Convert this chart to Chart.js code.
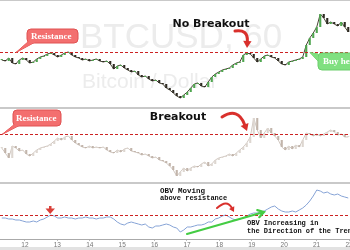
<!DOCTYPE html>
<html>
<head>
<meta charset="utf-8">
<script src="https://cdn.jsdelivr.net/npm/chart.js@4"></script>
<style>
html, body { margin: 0; padding: 0; background: #fff; }
#wrap { position: relative; width: 350px; height: 250px; overflow: hidden; }
canvas { position: absolute; left: 0; }
.sep { position: absolute; left: 0; width: 350px; background: #c9c9c9; }
</style>
</head>
<body>
<div id="wrap">
	<canvas id="priceChart" width="350" height="108" style="top:0"></canvas>
	<canvas id="retestChart" width="350" height="74" style="top:109px"></canvas>
	<canvas id="obvChart" width="350" height="63" style="top:184px"></canvas>
	<div class="sep" style="top:0;height:1px"></div>
	<div class="sep" style="top:107px;height:2px"></div>
	<div class="sep" style="top:182px;height:2px"></div>
	<div class="sep" style="top:247px;height:3px;background:#e2e2e2"></div>
</div>
<script>
// closing prices, top panel (failed breakout, then breakout)
const priceCloses = [
	6520, 6510, 6540, 6490, 6480, 6520, 6540, 6520, 6490, 6500,
	6530, 6550, 6560, 6580, 6590, 6570, 6550, 6570, 6590, 6600,
	6570, 6550, 6540, 6520, 6530, 6510, 6520, 6530, 6510, 6500,
	6510, 6480, 6430, 6460, 6470, 6440, 6420, 6400, 6410, 6370,
	6350, 6360, 6330, 6310, 6320, 6290, 6280, 6240, 6220, 6190,
	6160, 6140, 6170, 6200, 6240, 6280, 6290, 6260, 6250, 6300,
	6350, 6380, 6400, 6420, 6430, 6440, 6470, 6490, 6500, 6570,
	6590, 6580, 6540, 6500, 6530, 6560, 6570, 6550, 6540, 6510,
	6480, 6470, 6500, 6510, 6520, 6530, 6550, 6670, 6740, 6790,
	6850, 6980, 6940, 6880, 6900, 6880, 6860, 6900, 6850, 6800,
];
// closing prices, middle panel (breakout above resistance)
const retestCloses = [
	6460, 6410, 6360, 6480, 6460, 6430, 6440, 6400, 6380, 6410,
	6440, 6460, 6470, 6480, 6500, 6530, 6560, 6540, 6570, 6580,
	6540, 6510, 6490, 6470, 6460, 6480, 6460, 6470, 6460, 6470,
	6440, 6420, 6410, 6440, 6420, 6450, 6460, 6430, 6420, 6410,
	6390, 6400, 6380, 6360, 6370, 6340, 6330, 6310, 6280, 6240,
	6180, 6220, 6260, 6230, 6260, 6280, 6270, 6300, 6320, 6280,
	6300, 6340, 6360, 6370, 6380, 6400, 6380, 6410, 6440, 6470,
	6510, 6570, 6760, 6640, 6560, 6610, 6660, 6610, 6580, 6540,
	6470, 6440, 6480, 6450, 6490, 6470, 6540, 6610, 6600, 6580,
	6600, 6580, 6600, 6620, 6640, 6620, 6590, 6600, 6570, 6570,
];
// on-balance volume
const obvValues = [
	8200, 8200, 8100, 8100, 8000, 8000, 7900, 7800, 7800, 7900,
	7800, 8000, 8100, 8300, 8500, 8400, 8200, 8200, 8300, 8200,
	8200, 8100, 8200, 8200, 8300, 8200, 8200, 8100, 8200, 8200,
	8300, 8300, 8100, 7800, 7600, 7500, 7700, 7800, 7700, 7600,
	7500, 7600, 7300, 7200, 7400, 7400, 7500, 7600, 7500, 7300,
	7200, 6800, 7000, 7300, 7300, 7400, 7500, 7500, 7600, 7800,
	7800, 8100, 8200, 8400, 8500, 8300, 8100, 8000, 8100, 8200,
	8400, 8600, 8700, 8700, 8800, 8900, 9100, 9300, 9400, 9100,
	8900, 8800, 8800, 8900, 8800, 9000, 9200, 9500, 9900, 10400,
	11000, 10900, 10700, 10800, 10600, 10500, 10600, 10400, 10300, 10200,
];
const dayTicks = [12, 13, 14, 15, 16, 17, 18, 19, 20, 21, 22];
const dayLabels = ["12", "13", "14", "15", "16", "17", "18", "19", "20", "21", "22"];

const RESISTANCE = 6600;
const OBV_RESISTANCE = 8500;

const RED = "#d9302c";
const DASH_RED = "#cc2222";

function candles(closes) {
	return closes.map((c, i) => [i ? closes[i - 1] : c, c]);
}

function overlay(under, over) {
	return {
		id: "overlay",
		beforeDatasetsDraw(chart) {
			if (under) under(chart.ctx, chart);
		},
		afterDatasetsDraw(chart) {
			if (over) over(chart.ctx, chart);
		},
	};
}

function hline(ctx, chart, value) {
	const y = Math.round(chart.scales.y.getPixelForValue(value)) + 0.5;
	ctx.save();
	ctx.strokeStyle = DASH_RED;
	ctx.lineWidth = 1.2;
	ctx.setLineDash([3, 2]);
	ctx.beginPath();
	ctx.moveTo(chart.chartArea.left, y);
	ctx.lineTo(chart.chartArea.right, y);
	ctx.stroke();
	ctx.restore();
	return y;
}

function rrect(ctx, x, y, w, h, r) {
	ctx.beginPath();
	ctx.moveTo(x + r, y);
	ctx.lineTo(x + w - r, y);
	ctx.quadraticCurveTo(x + w, y, x + w, y + r);
	ctx.lineTo(x + w, y + h - r);
	ctx.quadraticCurveTo(x + w, y + h, x + w - r, y + h);
	ctx.lineTo(x + r, y + h);
	ctx.quadraticCurveTo(x, y + h, x, y + h - r);
	ctx.lineTo(x, y + r);
	ctx.quadraticCurveTo(x, y, x + r, y);
	ctx.closePath();
}

function callout(ctx, b) {
	const tail = () => {
		ctx.beginPath();
		ctx.moveTo(b.tail[0][0], b.tail[0][1]);
		ctx.lineTo(b.tail[1][0], b.tail[1][1]);
		ctx.lineTo(b.tail[2][0], b.tail[2][1]);
		ctx.closePath();
	};
	ctx.save();
	ctx.fillStyle = b.fill;
	ctx.strokeStyle = b.stroke;
	ctx.lineWidth = 1;
	tail();
	ctx.fill();
	ctx.stroke();
	rrect(ctx, b.x, b.y, b.w, b.h, 4);
	ctx.fill();
	ctx.stroke();
	tail();
	ctx.fill();
	ctx.fillStyle = "#fff";
	ctx.font = "bold 9px 'Liberation Serif'";
	ctx.textBaseline = "middle";
	ctx.textAlign = "left";
	ctx.fillText(b.text, b.tx, b.y + b.h / 2 + 0.5);
	ctx.restore();
}

function curvedArrow(ctx, p0, c, p1, width, head) {
	const ang = Math.atan2(p1[1] - c[1], p1[0] - c[0]);
	const bx = p1[0] - Math.cos(ang) * head;
	const by = p1[1] - Math.sin(ang) * head;
	const nx = Math.cos(ang + Math.PI / 2) * head * 0.6;
	const ny = Math.sin(ang + Math.PI / 2) * head * 0.6;
	ctx.save();
	ctx.strokeStyle = RED;
	ctx.fillStyle = RED;
	ctx.lineWidth = width;
	ctx.lineCap = "round";
	ctx.beginPath();
	ctx.moveTo(p0[0], p0[1]);
	ctx.quadraticCurveTo(c[0], c[1], bx, by);
	ctx.stroke();
	ctx.beginPath();
	ctx.moveTo(p1[0], p1[1]);
	ctx.lineTo(bx + nx, by + ny);
	ctx.lineTo(bx - nx, by - ny);
	ctx.closePath();
	ctx.fill();
	ctx.restore();
}

function text(ctx, str, x, y, font, align) {
	ctx.save();
	ctx.fillStyle = "#111";
	ctx.font = font;
	ctx.textAlign = align || "left";
	ctx.textBaseline = "middle";
	ctx.fillText(str, x, y);
	ctx.restore();
}

function baseOptions(yMin, yMax) {
	return {
		responsive: false,
		animation: false,
		devicePixelRatio: 1,
		events: [],
		layout: { padding: 0 },
		plugins: { legend: { display: false }, tooltip: { enabled: false } },
		scales: {
			x: { display: false, offset: true },
			y: { display: false, min: yMin, max: yMax },
		},
	};
}

function candleDatasets(closes, up, down, trace) {
	return [
		{
			type: "bar",
			data: candles(closes),
			backgroundColor: (ctx) => {
				const r = ctx.raw;
				return r && r[1] >= r[0] ? up : down;
			},
			borderWidth: 0,
			barPercentage: 0.6,
			categoryPercentage: 1,
			minBarLength: 1,
			order: 1,
		},
		{
			type: "line",
			data: closes,
			borderColor: trace,
			borderWidth: 1,
			pointRadius: 0,
			tension: 0,
			order: 2,
		},
	];
}

// top panel
new Chart(document.getElementById("priceChart"), {
	type: "bar",
	data: {
		labels: priceCloses.map((_, i) => i),
		datasets: candleDatasets(priceCloses, "#4fa64f", "#2e2a22", "#4a4636"),
	},
	options: baseOptions(6040, 7120),
	plugins: [
		overlay(
			(ctx) => {
				ctx.save();
				ctx.fillStyle = "#ececec";
				ctx.textBaseline = "alphabetic";
				ctx.font = "35px 'Liberation Sans'";
				ctx.fillText("BTCUSD, 60", 80, 48);
				ctx.font = "21px 'Liberation Sans'";
				ctx.fillText("Bitcoin / Dollar", 82, 88);
				ctx.restore();
			},
			(ctx, chart) => {
				const ry = hline(ctx, chart, RESISTANCE);
				callout(ctx, {
					x: 27, y: 29, w: 51, h: 14, tx: 31, text: "Resistance",
					fill: "#f36f6f", stroke: "#e05252",
					tail: [[29, 41], [37, 41], [16, ry]],
				});
				callout(ctx, {
					x: 318, y: 53, w: 42, h: 17, tx: 323, text: "Buy here",
					fill: "#80e080", stroke: "#6cce6c",
					tail: [[318, 54], [318, 61], [310, ry]],
				});
				text(ctx, "No Breakout", 211, 24, "bold 11px 'DejaVu Sans'", "center");
				curvedArrow(ctx, [235, 31], [248, 29], [247, 48], 3, 7);
			},
		),
	],
});

// middle panel
new Chart(document.getElementById("retestChart"), {
	type: "bar",
	data: {
		labels: retestCloses.map((_, i) => i),
		datasets: candleDatasets(retestCloses, "#ddd6d0", "#c2b5ab", "#d2c9c2"),
	},
	options: baseOptions(6110, 6850),
	plugins: [
		overlay(null, (ctx, chart) => {
			const ry = hline(ctx, chart, RESISTANCE);
			callout(ctx, {
				x: 13, y: 1, w: 48, h: 16, tx: 16, text: "Resistance",
				fill: "#f36f6f", stroke: "#e05252",
				tail: [[15, 15], [22, 15], [2, ry]],
			});
			text(ctx, "Breakout", 178, 8.5, "bold 11px 'DejaVu Sans'", "center");
			curvedArrow(ctx, [222, 8], [238, -2], [247, 22], 3, 7);
		}),
	],
});

// OBV panel
const obvOptions = baseOptions(6100, 11600);
obvOptions.scales.days = {
	type: "linear",
	position: "bottom",
	min: 11.23,
	max: 22.03,
	grid: { display: true, drawOnChartArea: false, drawTicks: true, tickLength: 2, color: "#bbb" },
	border: { color: "#aaa" },
	ticks: {
		font: { size: 6.5, family: "'Liberation Sans'" },
		color: "#777",
		padding: 0,
		autoSkip: false,
		maxRotation: 0,
		callback: (v) => dayLabels[dayTicks.indexOf(v)],
	},
	afterBuildTicks: (s) => {
		s.ticks = dayTicks.map((v) => ({ value: v }));
	},
	afterFit: (s) => {
		s.height = 8;
		s.paddingLeft = 0;
		s.paddingRight = 0;
	},
};

new Chart(document.getElementById("obvChart"), {
	type: "line",
	data: {
		labels: obvValues.map((_, i) => i),
		datasets: [
			{
				data: obvValues,
				borderColor: "#86a3d6",
				borderWidth: 1,
				pointRadius: 0,
				tension: 0,
			},
		],
	},
	options: obvOptions,
	plugins: [
		overlay(null, (ctx, chart) => {
			hline(ctx, chart, OBV_RESISTANCE);
			// red marker on the first OBV test
			ctx.save();
			ctx.fillStyle = "#d9413a";
			ctx.fillRect(49, 22, 2.5, 3);
			ctx.beginPath();
			ctx.moveTo(45.5, 24.5);
			ctx.lineTo(55, 24.5);
			ctx.lineTo(50.2, 30);
			ctx.closePath();
			ctx.fill();
			ctx.restore();

			const mono = "bold 7px 'Liberation Mono'";
			text(ctx, "OBV Moving", 160, 7.5, "bold 7.5px 'Liberation Mono'");
			text(ctx, "above resistance", 160, 14.5, mono);
			curvedArrow(ctx, [217, 24], [227, 15], [234, 28], 2, 5);

			// green trend arrow
			ctx.save();
			ctx.strokeStyle = "#44cc44";
			ctx.lineWidth = 2.2;
			ctx.lineCap = "round";
			const p0 = [187, 50];
			const p1 = [264, 28];
			const a = Math.atan2(p1[1] - p0[1], p1[0] - p0[0]);
			ctx.beginPath();
			ctx.moveTo(p0[0], p0[1]);
			ctx.lineTo(p1[0], p1[1]);
			ctx.moveTo(p1[0] - Math.cos(a - 0.55) * 7, p1[1] - Math.sin(a - 0.55) * 7);
			ctx.lineTo(p1[0], p1[1]);
			ctx.lineTo(p1[0] - Math.cos(a + 0.55) * 7, p1[1] - Math.sin(a + 0.55) * 7);
			ctx.stroke();
			ctx.restore();

			text(ctx, "OBV Increasing in", 247, 39.5, mono);
			text(ctx, "the Direction of the Trend", 247, 47, mono);
		}),
	],
});
</script>
</body>
</html>
